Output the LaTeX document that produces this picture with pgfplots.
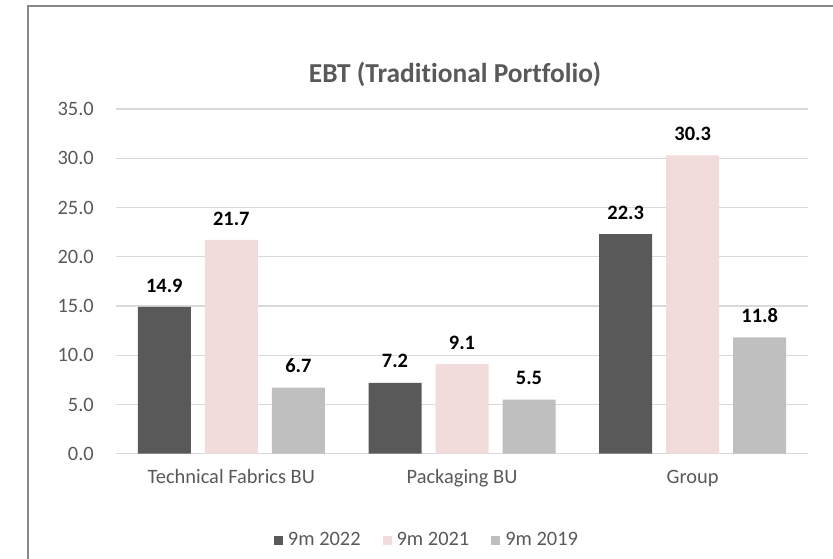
\documentclass[border=0pt]{standalone}
\usepackage{pgfplots}
\pgfplotsset{compat=1.18}
\usepackage{fontspec}
\setmainfont{Carlito}[Ligatures=NoCommon]
\definecolor{cDark}{HTML}{595959}
\definecolor{cPink}{HTML}{F2DCDB}
\definecolor{cLight}{HTML}{BFBFBF}
\definecolor{cGrid}{HTML}{D9D9D9}
\definecolor{cText}{HTML}{595959}
\definecolor{cFrame}{HTML}{898989}
\begin{document}
\begin{tikzpicture}
\path[use as bounding box] (0,0) rectangle (833bp,559bp);
\draw[cFrame, line width=2.5bp] (28bp,-5bp) -- (28bp,553bp) -- (840bp,553bp);
\begin{axis}[
  at={(116bp,105.3bp)}, anchor=south west,
  width=692bp, height=344.7bp, scale only axis,
  ymin=0, ymax=35, xmin=-0.5, xmax=2.5,
  ytick={0,5,...,35},
  xtick={0,1,2},
  xticklabels={Technical Fabrics BU, Packaging BU, Group},
  major tick length=0pt,
  axis line style={draw=none},
  ymajorgrids, major grid style={cGrid, line width=1.3bp},
  /pgf/number format/assume math mode=true,
  yticklabel={\pgfmathprintnumber[fixed, fixed zerofill, precision=1]{\tick}},
  yticklabel style={anchor=east, inner sep=0pt, xshift=-22bp, font=\fontsize{20.5}{24}\selectfont, text=cText},
  xticklabel style={anchor=base, inner sep=0pt, yshift=-29.5bp, font=\fontsize{20.5}{24}\selectfont, text=cText},
  ybar, bar width=53bp,
  nodes near coords={\pgfmathprintnumber[fixed, fixed zerofill, precision=1]{\pgfplotspointmeta}},
  every node near coord/.append style={anchor=south, inner sep=0pt, yshift=14.5bp, font=\fontsize{20.5}{24}\selectfont\bfseries, text=black},
  legend columns=3,
  legend style={at={(0.4494,-0.2504)}, anchor=center, draw=none, fill=none,
    font=\fontsize{20.5}{24}\selectfont, text=cText, inner sep=0pt,
    /tikz/every even column/.append style={column sep=20bp},
    /tikz/every odd column/.append style={column sep=3bp}},
  legend image code/.code={\fill[#1] (0bp,-4.5bp) rectangle (9bp,4.5bp);},
]
\addplot[fill=cDark, draw=none, bar shift=-67bp] coordinates {(0,14.9) (1,7.2) (2,22.3)};
\addplot[fill=cPink, draw=none, bar shift=0bp] coordinates {(0,21.7) (1,9.1) (2,30.3)};
\addplot[fill=cLight, draw=none, bar shift=67bp] coordinates {(0,6.7) (1,5.5) (2,11.8)};
\legend{9m 2022, 9m 2021, 9m 2019}
\end{axis}
\node[anchor=base, inner sep=0pt, text=cText, font=\fontsize{27.5}{32}\selectfont\bfseries] at (455bp,476bp) {EBT (Traditional Portfolio)};
\end{tikzpicture}
\end{document}
